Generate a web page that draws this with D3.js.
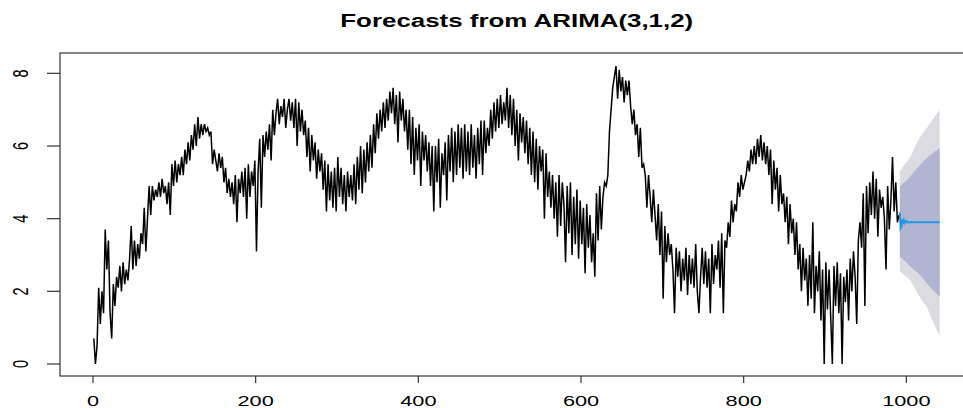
<!DOCTYPE html>
<html>
<head>
<meta charset="utf-8">
<script src="https://cdn.jsdelivr.net/npm/d3@7"></script>
<style>
  body { margin: 0; background: #fff; }
  svg { display: block; }
  text { font-family: "Liberation Sans", Arial, sans-serif; fill: #000; }
</style>
</head>
<body>
<div id="chart"></div>
<script>
// observed series, read every 2nd time step starting at t = 1
var obsStart = 1, obsStep = 2;
var obsValues = [
  0.7, 0.0, 0.5, 2.1, 1.1, 2.0, 1.4, 3.7, 2.6, 3.4,
  1.4, 0.7, 2.2, 1.6, 2.4, 2.1, 2.7, 2.0, 2.8, 2.2,
  2.6, 2.3, 2.9, 3.8, 2.6, 3.4, 2.7, 3.3, 2.9, 3.6,
  3.3, 4.3, 3.1, 4.0, 4.9, 4.1, 4.9, 4.5, 4.8, 4.6,
  5.0, 4.6, 5.1, 4.7, 4.9, 4.4, 5.0, 4.1, 5.5, 4.9,
  5.6, 5.0, 5.5, 5.2, 5.7, 5.2, 5.9, 5.5, 6.1, 5.6,
  6.3, 5.9, 6.6, 6.0, 6.8, 6.2, 6.6, 6.3, 6.6, 6.4,
  6.5, 6.3, 6.4, 5.5, 5.9, 5.6, 5.3, 5.8, 5.4, 5.7,
  5.0, 5.4, 4.7, 5.1, 4.6, 5.0, 4.4, 5.2, 3.9, 5.1,
  4.7, 5.3, 4.6, 5.4, 4.0, 5.5, 4.6, 5.3, 4.9, 5.6,
  3.1, 5.3, 6.2, 4.3, 6.3, 5.7, 6.4, 5.9, 6.6, 5.6,
  7.0, 6.3, 6.9, 7.3, 6.6, 7.1, 6.8, 7.3, 6.5, 7.0,
  7.3, 6.7, 7.2, 6.5, 7.3, 6.0, 7.2, 6.4, 7.0, 6.3,
  6.7, 5.7, 6.5, 5.3, 6.3, 5.6, 6.1, 5.1, 5.9, 5.3,
  5.8, 4.8, 5.6, 4.2, 5.5, 4.5, 5.3, 4.3, 5.4, 4.2,
  5.7, 4.6, 5.4, 4.4, 5.2, 4.2, 5.3, 4.6, 5.2, 4.5,
  5.5, 4.4, 5.7, 4.8, 6.0, 4.7, 5.9, 5.0, 6.1, 5.3,
  6.3, 5.4, 6.6, 5.8, 6.9, 6.2, 7.0, 6.4, 7.2, 6.5,
  7.3, 6.7, 7.5, 6.9, 7.6, 6.6, 7.4, 6.1, 7.5, 6.7,
  7.3, 6.4, 7.0, 5.9, 7.0, 5.5, 6.8, 5.2, 6.5, 5.6,
  6.6, 4.9, 6.4, 5.6, 6.3, 5.3, 6.1, 4.9, 6.0, 4.2,
  6.0, 5.0, 6.2, 4.3, 5.8, 5.2, 6.1, 4.5, 6.3, 5.3,
  6.5, 5.0, 6.4, 5.2, 6.6, 5.4, 6.5, 5.1, 6.6, 5.3,
  6.4, 5.2, 6.6, 5.4, 6.3, 5.1, 6.5, 5.5, 6.7, 5.2,
  6.7, 5.8, 6.5, 6.0, 7.0, 6.2, 7.2, 6.4, 7.3, 6.5,
  7.4, 6.6, 7.2, 6.7, 7.6, 6.5, 7.4, 6.3, 7.3, 6.0,
  7.0, 5.6, 6.9, 6.1, 6.8, 5.8, 6.7, 5.5, 6.5, 5.2,
  6.4, 5.0, 6.2, 4.8, 6.0, 5.3, 5.9, 4.0, 5.8, 4.6,
  5.3, 4.3, 5.2, 4.0, 5.0, 3.5, 5.2, 3.8, 5.0, 4.4,
  2.8, 4.9, 3.6, 5.0, 3.0, 4.6, 3.3, 4.8, 2.9, 4.5,
  3.3, 4.3, 2.5, 4.4, 3.2, 4.1, 2.8, 3.6, 2.4, 4.7,
  3.4, 4.9, 3.7, 4.6, 5.0, 4.9, 5.2, 6.4, 7.0, 7.6,
  7.9, 8.2, 7.3, 8.1, 7.5, 7.9, 7.2, 7.8, 7.4, 7.8,
  7.1, 6.6, 7.0, 6.3, 6.6, 5.7, 6.5, 5.4, 5.5, 5.2,
  4.3, 5.2, 4.6, 3.9, 4.8, 4.1, 3.4, 4.4, 3.0, 4.2,
  1.8, 3.8, 2.8, 3.6, 3.0, 3.3, 2.6, 1.4, 3.2, 2.4,
  3.1, 2.0, 2.9, 2.3, 3.2, 1.9, 3.0, 2.2, 2.9, 2.1,
  3.3, 2.0, 1.4, 2.4, 3.2, 2.2, 3.1, 2.1, 2.9, 1.4,
  3.3, 2.2, 3.0, 2.6, 3.4, 2.1, 3.6, 1.4, 3.4, 3.2,
  3.9, 3.5, 4.5, 3.9, 4.4, 4.2, 5.0, 4.6, 5.2, 4.8,
  5.0, 5.2, 5.6, 5.3, 5.9, 5.5, 6.0, 5.5, 6.2, 5.7,
  6.3, 5.6, 6.1, 5.5, 6.0, 5.2, 5.9, 4.4, 5.6, 4.8,
  5.4, 4.2, 5.2, 4.4, 4.7, 3.9, 4.6, 3.3, 4.4, 3.6,
  4.0, 3.0, 3.9, 2.6, 3.3, 2.0, 3.2, 2.3, 2.9, 1.6,
  3.0, 1.8, 3.9, 1.4, 2.7, 2.0, 3.1, 1.2, 2.6, 0.0,
  2.8, 1.5, 2.6, 1.3, 0.0, 2.7, 1.6, 2.8, 1.4, 2.5,
  0.0, 2.4, 1.7, 2.6, 1.2, 2.9, 2.0, 3.1, 2.4, 1.1,
  3.4, 3.9, 3.2, 4.7, 1.6, 4.9, 3.6, 5.0, 4.1, 5.3,
  4.0, 5.1, 3.5, 4.8, 4.3, 4.6, 4.0, 2.6, 4.9, 3.7,
  4.5, 5.7, 4.2, 5.0, 3.9, 4.1
];

// forecast mean (t = 992 .. 1041)
var fcTime = [992, 993, 994, 995, 996, 997, 998, 1000, 1002, 1005, 1010, 1041];
var fcMean = [4.17, 3.74, 3.78, 3.98, 3.86, 3.95, 3.88, 3.94, 3.89, 3.91, 3.90, 3.90];

// prediction intervals
var bandTime = [992, 995, 1000, 1005, 1010, 1015, 1020, 1025, 1030, 1035, 1041];
var lo80 = [2.95, 2.90, 2.80, 2.68, 2.58, 2.50, 2.37, 2.22, 2.10, 1.98, 1.85];
var hi80 = [4.90, 4.95, 5.05, 5.17, 5.30, 5.43, 5.55, 5.66, 5.76, 5.85, 5.94];
var lo95 = [2.55, 2.50, 2.40, 2.30, 2.10, 1.90, 1.72, 1.58, 1.30, 1.05, 0.77];
var hi95 = [5.30, 5.40, 5.55, 5.70, 5.95, 6.17, 6.35, 6.49, 6.65, 6.82, 6.99];

var xTicks = [0, 200, 400, 600, 800, 1000];
var yTicks = [0, 2, 4, 6, 8];

var W = 963, H = 408;
var plot = {left: 60, right: 973.5, top: 53, bottom: 376};

var svg = d3.select("#chart").append("svg")
  .attr("width", W)
  .attr("height", H);

var x = d3.scaleLinear().domain([-40.56, 1082.56]).range([plot.left, plot.right]);
var y = d3.scaleLinear().domain([-0.33, 8.56]).range([plot.bottom, plot.top]);

svg.append("clipPath").attr("id", "plotClip")
  .append("rect")
    .attr("x", plot.left).attr("y", plot.top)
    .attr("width", plot.right - plot.left).attr("height", plot.bottom - plot.top);

var g = svg.append("g").attr("clip-path", "url(#plotClip)");

// observed line
var obs = obsValues.map(function(v, i) { return {t: obsStart + i * obsStep, v: v}; });
var line = d3.line()
  .x(function(d) { return x(d.t); })
  .y(function(d) { return y(d.v); });

g.append("path")
  .datum(obs)
  .attr("d", line)
  .attr("fill", "none")
  .attr("stroke", "#000")
  .attr("stroke-width", 1.5);

// interval bands, 95% under 80%
function band(lo, hi) {
  return bandTime.map(function(t, i) { return {t: t, lo: lo[i], hi: hi[i]}; });
}
var area = d3.area()
  .x(function(d) { return x(d.t); })
  .y0(function(d) { return y(d.lo); })
  .y1(function(d) { return y(d.hi); });

g.append("path").datum(band(lo95, hi95)).attr("d", area).attr("fill", "#DBDBE2");
g.append("path").datum(band(lo80, hi80)).attr("d", area).attr("fill", "#B1B5D1");

// forecast mean
var fc = fcTime.map(function(t, i) { return {t: t, v: fcMean[i]}; });
g.append("path")
  .datum(fc)
  .attr("d", line)
  .attr("fill", "none")
  .attr("stroke", "#2297E6")
  .attr("stroke-width", 2);

// box
svg.append("rect")
  .attr("x", plot.left).attr("y", plot.top)
  .attr("width", plot.right - plot.left).attr("height", plot.bottom - plot.top)
  .attr("fill", "none")
  .attr("stroke", "#333")
  .attr("stroke-width", 1.2);

// x axis, R style: ticks below the box, stretched labels
var xAxis = svg.append("g");
xAxis.selectAll("line").data(xTicks).enter().append("line")
  .attr("x1", function(d) { return x(d); })
  .attr("x2", function(d) { return x(d); })
  .attr("y1", plot.bottom)
  .attr("y2", plot.bottom + 7)
  .attr("stroke", "#333")
  .attr("stroke-width", 1.2);
xAxis.selectAll("text").data(xTicks).enter().append("text")
  .attr("transform", function(d) { return "translate(" + x(d) + ",406) scale(1.5,1)"; })
  .attr("text-anchor", "middle")
  .style("font-size", "14.5px")
  .text(function(d) { return d; });

// y axis
var yAxis = svg.append("g");
yAxis.selectAll("line").data(yTicks).enter().append("line")
  .attr("x1", plot.left - 13)
  .attr("x2", plot.left)
  .attr("y1", function(d) { return y(d); })
  .attr("y2", function(d) { return y(d); })
  .attr("stroke", "#333")
  .attr("stroke-width", 1.2);
yAxis.selectAll("text").data(yTicks).enter().append("text")
  .attr("transform", function(d) { return "translate(28," + y(d) + ") scale(1.5,1) rotate(-90)"; })
  .attr("text-anchor", "middle")
  .style("font-size", "14.5px")
  .text(function(d) { return d; });

// title
svg.append("text")
  .attr("transform", "translate(" + ((plot.left + plot.right) / 2) + ",27) scale(1.48,1)")
  .attr("text-anchor", "middle")
  .style("font-size", "17.5px")
  .style("font-weight", "bold")
  .text("Forecasts from ARIMA(3,1,2)");
</script>
</body>
</html>
